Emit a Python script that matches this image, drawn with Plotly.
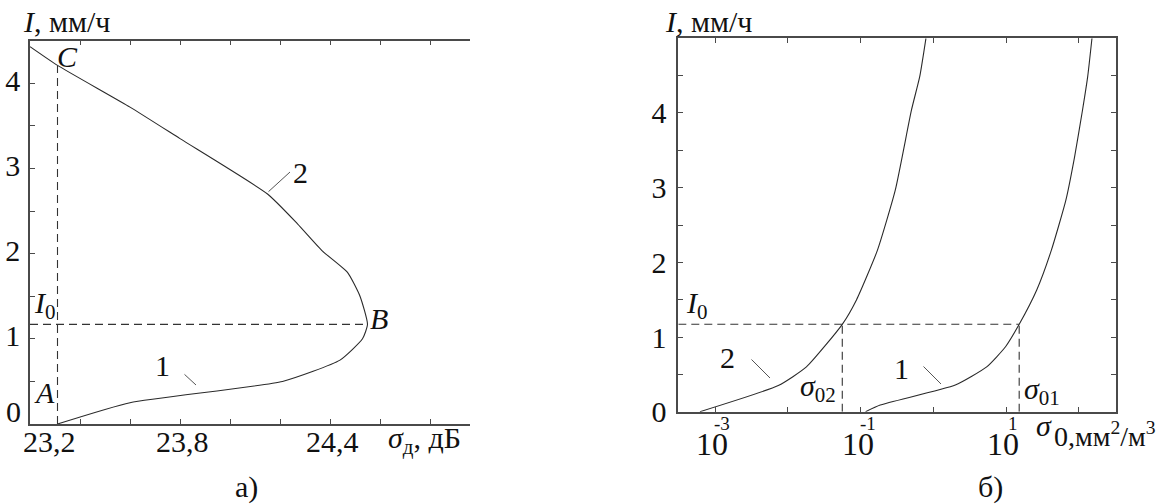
import math
import plotly.graph_objects as go

# ---- panel a): wear rate I vs radar cross-section sigma_d ----
sigma_d = [23.31, 23.60, 24.21, 24.44, 24.53, 24.55, 24.52, 24.47, 24.37,
           24.27, 24.15, 23.80, 23.60, 23.31, 23.20]
I_a = [0.00, 0.25, 0.50, 0.75, 1.00, 1.17, 1.50, 1.78, 2.03,
       2.35, 2.70, 3.35, 3.72, 4.21, 4.43]

I0 = 1.17
sigma_A = 23.31      # abscissa of points A and C
I_C = 4.21
sigma_B = 24.55

a_ticks = [23.2, 23.8, 24.4]
a_ticktext = ["23,2", "23,8", "24,4"]
a_yticks = [0, 1, 2, 3, 4]
a_yticktext = ["", "1", "2", "3", "4"]

# ---- panel b): wear rate I vs sigma_0 (log scale) ----
sigma0_2 = [6.2e-4, 7.4e-3, 0.018, 0.056, 0.088, 0.17, 0.30, 0.50, 0.65, 0.79]
I_b2 = [0.00, 0.35, 0.60, 1.17, 1.50, 2.16, 2.97, 4.04, 4.49, 5.00]
sigma0_1 = [0.117, 0.186, 2.0, 5.4, 9.8, 15.1, 26.3, 41.7, 66.0,
            87.0, 112.0, 132.0, 151.0]
I_b1 = [0.00, 0.09, 0.357, 0.60, 0.87, 1.17, 1.63, 2.16, 2.83,
        3.41, 4.04, 4.49, 5.00]
sigma_02 = 0.056
sigma_01 = 15.1

b_ticks = [1e-3, 1e-2, 1e-1, 1e0, 1e1, 1e2]
b_ticktext = ["10", "", "10", "", "10", ""]
b_exponents = ["-3", "", "-1", "", "1", ""]
b_yticks = [0, 1, 2, 3, 4]
b_yticktext = ["0", "1", "2", "3", "4"]

W, H = 1165, 504
FONT = "Liberation Serif, Times New Roman, serif"
CURVE = dict(color="#2a2a2a", width=1.1, shape="spline", smoothing=0.5)
DASH = dict(color="#333333", width=1.1, dash="8px,5px")
AX = "#4a4a4a"
TXT = "#111"


def px(x):
    return x / W


def py(y):
    return 1 - y / H


fig = go.Figure()

# panel a curves
fig.add_trace(go.Scatter(x=sigma_d, y=I_a, mode="lines", line=CURVE,
                         xaxis="x", yaxis="y", hoverinfo="skip"))
fig.add_trace(go.Scatter(x=[sigma_A, sigma_A], y=[0, I_C], mode="lines",
                         line=DASH, xaxis="x", yaxis="y", hoverinfo="skip"))
fig.add_trace(go.Scatter(x=[a_ticks[0], sigma_B], y=[I0, I0], mode="lines",
                         line=DASH, xaxis="x", yaxis="y", hoverinfo="skip"))

# panel b curves
fig.add_trace(go.Scatter(x=sigma0_2, y=I_b2, mode="lines", line=CURVE,
                         xaxis="x2", yaxis="y2", hoverinfo="skip"))
fig.add_trace(go.Scatter(x=sigma0_1, y=I_b1, mode="lines", line=CURVE,
                         xaxis="x2", yaxis="y2", hoverinfo="skip"))
fig.add_trace(go.Scatter(x=[10 ** -3.505, sigma_01], y=[I0, I0], mode="lines",
                         line=DASH, xaxis="x2", yaxis="y2", hoverinfo="skip"))
fig.add_trace(go.Scatter(x=[sigma_02, sigma_02], y=[0, I0], mode="lines",
                         line=DASH, xaxis="x2", yaxis="y2", hoverinfo="skip"))
fig.add_trace(go.Scatter(x=[sigma_01, sigma_01], y=[0, I0], mode="lines",
                         line=DASH, xaxis="x2", yaxis="y2", hoverinfo="skip"))

tickfont = dict(family=FONT, size=30, color=TXT)
common = dict(showline=True, linecolor=AX, linewidth=1.5, ticks="inside",
              ticklen=5, tickcolor=AX, tickwidth=1.2, showgrid=False,
              zeroline=False, tickfont=tickfont, fixedrange=True,
              automargin=False)

fig.update_layout(
    width=W, height=H, margin=dict(l=0, r=0, t=0, b=0, pad=0),
    paper_bgcolor="white", plot_bgcolor="white", showlegend=False,
    xaxis=dict(domain=[px(30), px(470)], range=[23.2, 24.96], anchor="y",
               tickvals=a_ticks, showticklabels=False, mirror="ticks",
               minor=dict(dtick=0.2, tick0=23.2, ticks="inside", ticklen=5,
                          tickcolor=AX),
               **common),
    yaxis=dict(domain=[py(424), py(40.7)], range=[0, 4.5], anchor="x",
               tickvals=a_yticks, ticktext=a_yticktext, mirror=False,
               minor=dict(dtick=0.5, tick0=0, ticks="inside", ticklen=5,
                          tickcolor=AX),
               ticklabelshift=-3, ticklabelstandoff=2, **common),
    xaxis2=dict(domain=[px(678.3), px(1115.7)], type="log",
                range=[-3.505, 2.505], anchor="y2", tickvals=b_ticks,
                showticklabels=False, mirror="ticks", **common),
    yaxis2=dict(domain=[py(411.7), py(38.3)], range=[0, 5], anchor="x2",
                tickvals=b_yticks, ticktext=b_yticktext, mirror="ticks",
                minor=dict(dtick=0.5, tick0=0, ticks="inside", ticklen=5,
                           tickcolor=AX),
                ticklabelstandoff=4, **common),
)

ann = []


def label(text, x, y, size=28, xanchor="center", yanchor="middle"):
    ann.append(dict(text=text, x=px(x), y=py(y), xref="paper", yref="paper",
                    xanchor=xanchor, yanchor=yanchor, showarrow=False,
                    font=dict(family=FONT, size=size, color=TXT)))


def leader(x0, y0, x1, y1):
    ann.append(dict(text="", x=px(x1), y=py(y1), xref="paper", yref="paper",
                    ax=x0 - x1, ay=y0 - y1, axref="pixel", ayref="pixel",
                    showarrow=True, arrowhead=0, arrowwidth=1,
                    arrowcolor="#555", standoff=0, startstandoff=0))


def xtick_label(text, xval, xref, y, size, xshift=0):
    ann.append(dict(text=text, x=xval, xref=xref, y=py(y), yref="paper",
                    xanchor="center", yanchor="middle", xshift=xshift,
                    showarrow=False,
                    font=dict(family=FONT, size=size, color=TXT)))


# panel a tick labels along sigma_d
for v, t in zip(a_ticks, a_ticktext):
    xtick_label(t, v, "x", 441, 30, xshift=19 if v == a_ticks[0] else 2)

# panel a labels
label("<i>I</i>, мм/ч", 66, 22, size=30)
label("<i>C</i>", 67, 56, size=30)
label("2", 300.5, 172.5, size=30)
leader(267, 193, 290, 172)
label("<i>I</i><sub>0</sub>", 45, 305, size=30)
label("<i>B</i>", 379, 318, size=30)
label("1", 162, 365, size=30)
leader(183, 373, 196, 385)
label("<i>A</i>", 44, 392, size=30)
label("0", 23, 411, size=30, xanchor="right")
label("<i>σ</i><sub>д</sub>, дБ", 424, 440, size=30)
label("а)", 246, 487, size=30)

# panel b tick labels: 10 with exponent above
for v, t, e in zip(b_ticks, b_ticktext, b_exponents):
    if t:
        xtick_label(t, math.log10(v), "x2", 444, 32, xshift=-3)
        xtick_label(e, math.log10(v), "x2", 423, 19, xshift=7)

# panel b labels
label("<i>I</i>, мм/ч", 708, 22, size=30)
label("<i>I</i><sub>0</sub>", 697, 305, size=30)
label("2", 727, 357, size=30)
leader(750, 358, 770, 378)
label("<i>σ</i><sub>02</sub>", 818, 388, size=30)
label("1", 901, 368, size=30)
leader(922, 365, 941, 384)
label("<i>σ</i><sub>01</sub>", 1042, 391, size=30)
label("<i>σ</i>", 1044, 425, size=30)
label("0,мм<sup>2</sup>/м<sup>3</sup>", 1052, 434, size=28, xanchor="left")
label("б)", 990, 487, size=30)

fig.update_layout(annotations=ann)
fig.write_html("out.html")
